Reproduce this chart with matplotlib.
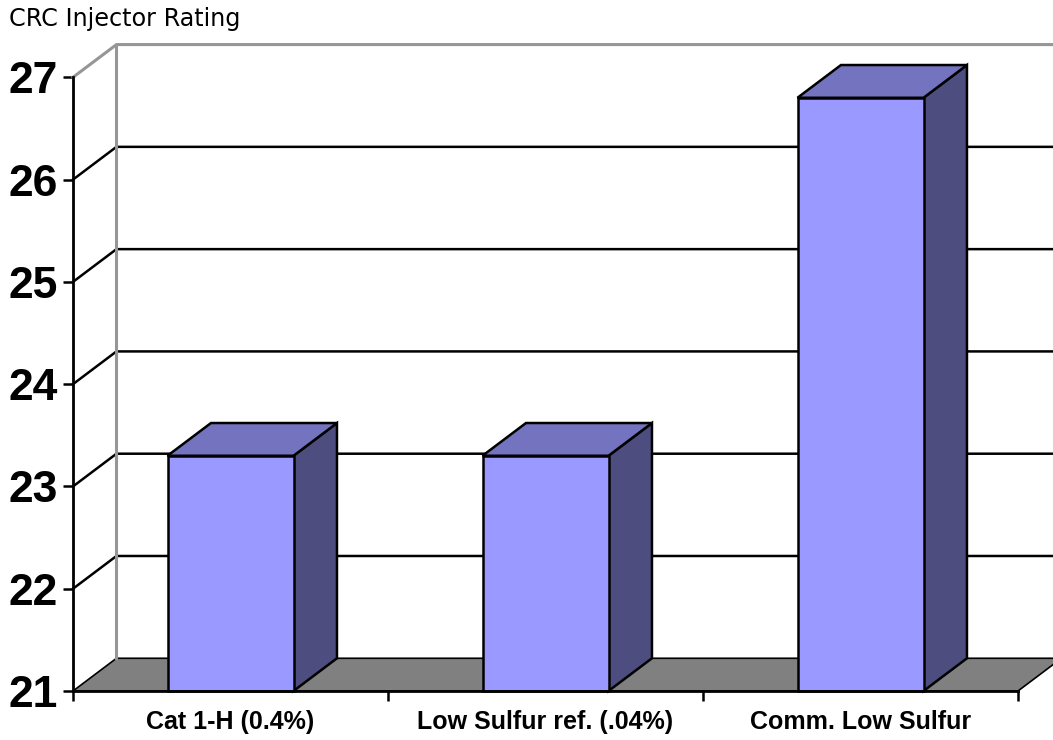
import matplotlib
matplotlib.use("Agg")
import matplotlib.pyplot as plt
from matplotlib.patches import Polygon, Rectangle

categories = ["Cat 1-H (0.4%)", "Low Sulfur ref. (.04%)", "Comm. Low Sulfur"]
ratings = [23.3, 23.3, 26.8]
y_ticks = [21, 22, 23, 24, 25, 26, 27]

y_min, y_max = 21, 27
depth_x = 0.138   # 3d offset in category units
depth_y = 0.32    # 3d offset in rating units
bar_w = 0.4

front_col = "#9999ff"
top_col = "#7373bf"
side_col = "#4d4d80"
floor_col = "#808080"
wall_col = "#969696"
lw = 1.8

W, H = 1053, 740
fig = plt.figure(figsize=(W / 100, H / 100), dpi=100)
ax = fig.add_axes([73 / W, (H - 691) / H, 945 / W, (691 - 77.3) / H])
ax.set_xlim(0, len(categories))
ax.set_ylim(y_min, y_max)
ax.patch.set_visible(False)

n = len(categories)

# floor
ax.add_patch(Polygon([(0, y_min), (n, y_min), (n + depth_x, y_min + depth_y),
                      (depth_x, y_min + depth_y)], closed=True,
                     facecolor=floor_col, edgecolor="black", lw=1.2,
                     clip_on=False, zorder=1))

# gridlines: diagonal on the side wall, then across the back wall
for v in y_ticks[1:-1]:
    ax.plot([0, depth_x, n + depth_x], [v, v + depth_y, v + depth_y],
            color="black", lw=lw, clip_on=False, zorder=2)

# wall border
ax.plot([0, depth_x, n + depth_x], [y_max, y_max + depth_y, y_max + depth_y],
        color=wall_col, lw=2.2, clip_on=False, zorder=2)
ax.plot([depth_x, depth_x], [y_min + depth_y, y_max + depth_y],
        color=wall_col, lw=2.2, clip_on=False, zorder=2)

# bars
for i, v in enumerate(ratings):
    left = i + 0.5 - bar_w / 2
    right = left + bar_w
    ax.add_patch(Polygon([(right, y_min), (right + depth_x, y_min + depth_y),
                          (right + depth_x, v + depth_y), (right, v)], closed=True,
                         facecolor=side_col, edgecolor="black", lw=lw,
                         joinstyle="miter", clip_on=False, zorder=3))
    ax.add_patch(Polygon([(left, v), (right, v), (right + depth_x, v + depth_y),
                          (left + depth_x, v + depth_y)], closed=True,
                         facecolor=top_col, edgecolor="black", lw=lw,
                         joinstyle="miter", clip_on=False, zorder=3))
    ax.add_patch(Rectangle((left, y_min), bar_w, v - y_min,
                           facecolor=front_col, edgecolor="black", lw=lw,
                           joinstyle="miter", clip_on=False, zorder=4))

# axes
for s in ["top", "right"]:
    ax.spines[s].set_visible(False)
for s in ["left", "bottom"]:
    ax.spines[s].set_linewidth(2.0)
    ax.spines[s].set_zorder(5)

ax.set_yticks(y_ticks)
ax.set_yticklabels([str(t) for t in y_ticks], fontsize=32, fontweight="bold",
                   family="Liberation Sans")
ax.tick_params(axis="y", direction="out", length=7, width=1.8, pad=4)

ax.set_xticks(range(n + 1))
ax.set_xticklabels([])
ax.tick_params(axis="x", which="major", direction="out", length=7.5, width=1.8)
ax.set_xticks([i + 0.5 for i in range(n)], minor=True)
ax.set_xticklabels(categories, minor=True, fontsize=18, fontweight="bold",
                   family="Liberation Sans")
ax.tick_params(axis="x", which="minor", length=0, pad=14)

fig.text(9 / W, 1 - 7 / H, "CRC Injector Rating", fontsize=17.2,
         family="DejaVu Sans", va="top", ha="left")

fig.savefig("out.png", dpi=100)
